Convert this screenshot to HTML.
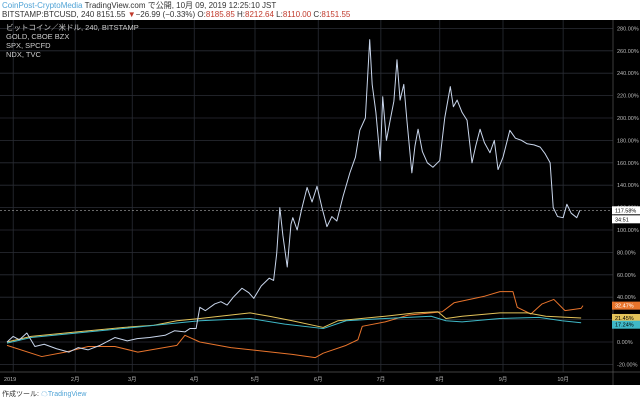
<!DOCTYPE html>
<html><head><meta charset="utf-8"><style>
body{margin:0;width:640px;height:402px;background:#fff;overflow:hidden;font-family:"Liberation Sans","Noto Sans CJK JP",sans-serif}
svg{position:absolute;left:0;top:0}
</style></head><body>
<svg width="640" height="402">
<rect x="0" y="0" width="640" height="402" fill="#fff"/>
<text x="2" y="8" font-size="8" fill="#333"><tspan fill="#4fa3d6">CoinPost-CryptoMedia</tspan> TradingView.com で公開, 10月 09, 2019 12:25:10 JST</text>
<text x="2" y="17" font-size="8" fill="#333">BITSTAMP:BTCUSD, 240 8151.55 <tspan fill="#c0392b">▼</tspan>−26.99 (−0.33%) O:<tspan fill="#c0392b">8185.85</tspan> H:<tspan fill="#c0392b">8212.64</tspan> L:<tspan fill="#c0392b">8110.00</tspan> C:<tspan fill="#c0392b">8151.55</tspan></text>
<rect x="0" y="20" width="640" height="365" fill="#000"/>
<g id="grid"></g>
<line x1="613" y1="20" x2="613" y2="385" stroke="#555" stroke-width="0.7"/>
<line x1="0" y1="372" x2="640" y2="372" stroke="#555" stroke-width="0.7"/>
<g font-size="7.5" fill="#ccc">
<text x="6" y="30">ビットコイン／米ドル, 240, BITSTAMP</text>
<text x="6" y="39">GOLD, CBOE BZX</text>
<text x="6" y="48">SPX, SPCFD</text>
<text x="6" y="57">NDX, TVC</text>
</g>
<g id="series"></g>
<g id="labels"></g>
<text x="2" y="396" font-size="7" fill="#333">作成ツール: <tspan fill="#4fa3d6">☁TradingView</tspan></text>
</svg>
<script>
const yTicks=[280,260,240,220,200,180,160,140,120,100,80,60,40,20,0,-20];
const months=["2019","2月","3月","4月","5月","6月","7月","8月","9月","10月"];
const monthT=[0.1,1.1,2.02,3.02,4.0,5.02,6.03,6.98,8.0,8.97];
const btcT=[0,.1,.2,.32,.45,.6,.8,1.0,1.15,1.31,1.5,1.74,1.94,2.1,2.3,2.55,2.7,2.87,2.95,3.05,3.11,3.2,3.35,3.45,3.55,3.65,3.79,3.9,3.98,4.1,4.23,4.3,4.35,4.40,4.45,4.52,4.58,4.61,4.68,4.75,4.84,4.92,5.0,5.08,5.16,5.24,5.32,5.42,5.53,5.62,5.69,5.78,5.85,5.89,5.95,6.02,6.06,6.12,6.18,6.24,6.29,6.34,6.4,6.45,6.53,6.58,6.63,6.7,6.78,6.87,6.98,7.06,7.15,7.2,7.26,7.34,7.42,7.5,7.56,7.63,7.7,7.79,7.86,7.92,8.0,8.11,8.2,8.3,8.39,8.5,8.6,8.68,8.76,8.81,8.88,8.97,9.03,9.1,9.19,9.24];
const btcV=[0,5,2,8,-4,-2,-6,-9,-5,-7,-3,4,1,3,4,6,10,9,12,12,31,28,34,36,33,40,48,44,39,50,57,55,79,120,95,67,105,111,100,118,138,125,139,120,103,112,108,130,151,165,189,200,270,230,205,162,219,180,198,215,252,216,230,198,151,175,190,170,160,156,162,200,228,210,216,205,198,160,175,190,178,169,180,154,165,189,182,180,177,176,174,168,160,120,112,111,123,115,111,117.58];
const goldT=[0,.56,.94,1.31,1.74,2.11,2.74,2.87,3.11,3.61,4.11,4.6,4.97,5.1,5.47,5.66,5.73,6.1,6.47,7.02,7.21,7.71,7.95,8.16,8.23,8.45,8.63,8.82,9.0,9.26,9.29];
const goldV=[-3,-13,-9,-4,-4,-9,-3,6,0,-5,-8,-11,-14,-10,-3,2,14,18,24,27,35,41,45,45,31,25,34,38,28,30,32.47];
const spxT=[0,.39,1.13,1.87,2.37,2.74,3.11,3.92,4.23,4.6,5.1,5.34,6.1,6.58,6.95,7.08,7.34,7.95,8.39,8.69,9.26];
const spxV=[0,5,9,13,15,19,21,26,23,19,13,19,23,26,27,21,23,26,26,23,21.45];
const ndxT=[0,.39,1.13,1.87,2.74,3.11,3.92,4.48,5.1,5.47,6.1,6.84,7.08,7.34,7.95,8.58,8.95,9.26];
const ndxV=[-1,4,8,12,17,19,21,16,12,19,21,23,19,18,21,22,19,17.24];
const X=t=>7+t*62, Y=v=>342-v*1.12;
const NS="http://www.w3.org/2000/svg";
function mk(tag,attrs,parent){const e=document.createElementNS(NS,tag);for(const k in attrs)e.setAttribute(k,attrs[k]);parent.appendChild(e);return e;}
const g=document.getElementById('grid');
yTicks.forEach(v=>{
 const l=mk('line',{x1:0,x2:613,y1:Y(v),y2:Y(v),stroke:'#2a2d35','stroke-width':0.8},g);
 
 
 const t=mk('text',{x:617,y:Y(v)+2,'font-size':5.5,fill:'#bbb'},g);
 t.textContent=v.toFixed(2)+'%';
 
 
});
months.forEach((m,i)=>{
 const xx=X(monthT[i]);
 const l=mk('line',{x1:xx,x2:xx,y1:20,y2:372,stroke:'#2a2d35','stroke-width':0.8},g);
 
 
 const t=mk('text',{x:i?xx:4,y:381,'font-size':5.5,fill:'#bbb','text-anchor':i?'middle':'start'},g);
 t.textContent=m;
 
 
});
const s=document.getElementById('series');
const dl=mk('line',{x1:0,x2:613,y1:Y(btcV[btcV.length-1]),y2:Y(btcV[btcV.length-1]),stroke:'#aaa','stroke-width':0.6,'stroke-dasharray':'2,2'},s);


function line(T,V,c,name,w){
 const p=mk('polyline',{points:T.map((t,i)=>X(t)+','+Y(V[i])).join(' '),fill:'none',stroke:c,'stroke-width':w,'stroke-linejoin':'round'},s);
 
 
}
line(goldT,goldV,'#e8742c','gold-line',1);
line(spxT,spxV,'#e3c35a','spx-line',1);
line(ndxT,ndxV,'#3fb8c7','ndx-line',1);
line(btcT,btcV,'#c9d6ec','btc-line',1);
const L=document.getElementById('labels');
function tag(v,bg,fg,name,txt,dy){
 const y=Y(v)+(dy||0);
 const r=mk('rect',{x:612,y:y-4,width:28,height:8,fill:bg},L);
 
 
 const t=mk('text',{x:615,y:y+2,'font-size':5.5,fill:fg},L);
 t.textContent=txt;
}
tag(btcV[btcV.length-1],'#fff','#000','btc-price-label',btcV[btcV.length-1].toFixed(2)+'%');
tag(btcV[btcV.length-1],'#fff','#000','countdown-label','34:51',9);
tag(goldV[goldV.length-1],'#e8742c','#fff','gold-price-label',goldV[goldV.length-1].toFixed(2)+'%');
tag(spxV[spxV.length-1],'#e3c35a','#000','spx-price-label',spxV[spxV.length-1].toFixed(2)+'%');
tag(ndxV[ndxV.length-1],'#3fb8c7','#000','ndx-price-label',ndxV[ndxV.length-1].toFixed(2)+'%',2);
</script>
</body></html>
